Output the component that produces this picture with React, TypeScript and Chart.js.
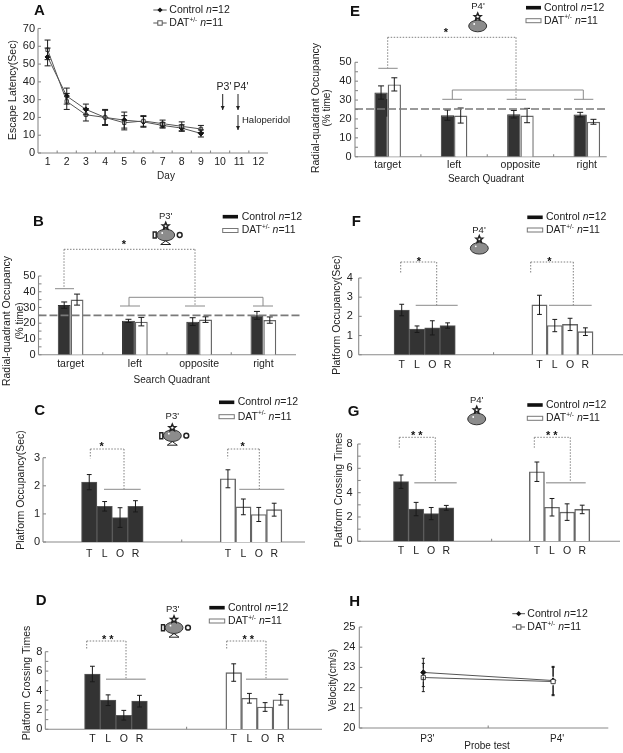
import React, { useEffect, useRef } from "react";
import { Chart, registerables } from "chart.js";

Chart.register(...registerables);

const W = 623;
const H = 753;
const FONT = '"Liberation Sans", Arial, sans-serif';
const INK = "#222222";
const DARK = "#333333";
const AXIS = "#8a8a8a";

// ---- data ----
const days = ["1", "2", "3", "4", "5", "6", "7", "8", "9", "10", "11", "12"];
const aControl = [54, 32, 24.5, 20, 18.5, 17.5, 15.5, 14, 11];
const aControlErr = [5, 4.5, 3, 4, 4.5, 3, 1.5, 1.8, 2];
const aDat = [58, 29, 21.5, 20, 17, 18, 16.5, 15, 13.5];
const aDatErr = [5.5, 4.5, 3.5, 4.5, 4, 3, 2, 2.5, 2];

const searchQuadrants = ["target", "left", "opposite", "right"];
const shortQuadrants = ["T", "L", "O", "R"];

const bControl = [31.5, 21.5, 21, 25];
const bControlErr = [2, 1, 2.5, 2.5];
const bDat = [35, 21, 22.3, 22];
const bDatErr = [3.5, 2.7, 1.8, 2];

const cControl = [2.13, 1.27, 0.87, 1.27];
const cControlErr = [0.27, 0.17, 0.35, 0.2];
const cDat = [2.25, 1.25, 0.98, 1.15];
const cDatErr = [0.32, 0.28, 0.25, 0.23];

const dControl = [5.7, 3.0, 1.45, 2.9];
const dControlErr = [0.8, 0.55, 0.5, 0.6];
const dDat = [5.85, 3.2, 2.3, 3.05];
const dDatErr = [0.9, 0.5, 0.45, 0.55];

const eControl = [34, 22, 22.5, 22.3];
const eControlErr = [3.5, 2.7, 2, 1.2];
const eDat = [38.3, 21.8, 21.8, 18.5];
const eDatErr = [3.5, 4, 3.8, 1.3];

const fControl = [2.33, 1.33, 1.4, 1.52];
const fControlErr = [0.3, 0.17, 0.37, 0.14];
const fDat = [2.6, 1.52, 1.58, 1.2];
const fDatErr = [0.5, 0.32, 0.32, 0.2];

const gControl = [4.9, 2.65, 2.28, 2.75];
const gControlErr = [0.55, 0.55, 0.5, 0.2];
const gDat = [5.72, 2.8, 2.4, 2.62];
const gDatErr = [0.8, 0.72, 0.68, 0.35];

const probes = ["P3'", "P4'"];
const hControl = [22.75, 22.35];
const hControlErr = [0.7, 0.7];
const hDat = [22.5, 22.3];
const hDatErr = [0.7, 0.7];

// ---- slot helpers: every bar of panels C, D, F, G sits on one category of an 18-slot axis ----
const controlStart = 3;
const datStart = 12;
const slotCount = 18;
function slotLabels(): string[] {
  const out = new Array(slotCount).fill("");
  shortQuadrants.forEach((q, i) => {
    out[controlStart + i] = q;
    out[datStart + i] = q;
  });
  return out;
}
function slotted(values: number[], start: number): (number | null)[] {
  const out = new Array(slotCount).fill(null);
  values.forEach((v, i) => (out[start + i] = v));
  return out;
}

// ---- drawing helpers ----
type Run = { t: string; i?: boolean; sup?: boolean };
const controlRuns: Run[] = [{ t: "Control " }, { t: "n", i: true }, { t: "=12" }];
const datRuns: Run[] = [{ t: "DAT" }, { t: "+/-", sup: true }, { t: " " }, { t: "n", i: true }, { t: "=11" }];

function drawRuns(ctx: CanvasRenderingContext2D, x: number, y: number, runs: Run[], size: number) {
  ctx.textAlign = "left";
  ctx.textBaseline = "middle";
  ctx.fillStyle = INK;
  let cx = x;
  for (const r of runs) {
    const s = r.sup ? size * 0.62 : size;
    ctx.font = `${r.i ? "italic " : ""}${s}px ${FONT}`;
    ctx.fillText(r.t, cx, r.sup ? y - 3 : y);
    cx += ctx.measureText(r.t).width;
  }
}

function seg(ctx: CanvasRenderingContext2D, x1: number, y1: number, x2: number, y2: number) {
  ctx.beginPath();
  ctx.moveTo(x1, y1);
  ctx.lineTo(x2, y2);
  ctx.stroke();
}

function text(
  ctx: CanvasRenderingContext2D,
  s: string,
  x: number,
  y: number,
  size: number,
  opts: { rot?: boolean; bold?: boolean; align?: CanvasTextAlign } = {}
) {
  ctx.save();
  ctx.translate(x, y);
  if (opts.rot) ctx.rotate(-Math.PI / 2);
  ctx.font = `${opts.bold ? "bold " : ""}${size}px ${FONT}`;
  ctx.fillStyle = opts.bold ? "#111" : INK;
  ctx.textAlign = opts.align || "center";
  ctx.textBaseline = "middle";
  ctx.fillText(s, 0, 0);
  ctx.restore();
}

function star(ctx: CanvasRenderingContext2D, cx: number, cy: number, r: number) {
  ctx.beginPath();
  for (let i = 0; i < 10; i++) {
    const a = -Math.PI / 2 + (i * Math.PI) / 5;
    const rr = i % 2 ? r * 0.45 : r;
    const px = cx + Math.cos(a) * rr;
    const py = cy + Math.sin(a) * rr;
    if (i) ctx.lineTo(px, py);
    else ctx.moveTo(px, py);
  }
  ctx.closePath();
  ctx.stroke();
}

function maze(ctx: CanvasRenderingContext2D, cx: number, cy: number, starY: number, cues: boolean) {
  ctx.save();
  ctx.strokeStyle = "#222";
  ctx.lineWidth = 0.9;
  ctx.setLineDash([]);
  ctx.beginPath();
  ctx.ellipse(cx, cy, 9, 5.8, 0, 0, Math.PI * 2);
  ctx.fillStyle = "#8c8c8c";
  ctx.fill();
  ctx.stroke();
  ctx.fillStyle = "#fff";
  ctx.beginPath();
  ctx.arc(cx - 3.5, cy - 2, 0.9, 0, Math.PI * 2);
  ctx.fill();
  ctx.lineWidth = 1.5;
  star(ctx, cx, starY, 3.6);
  if (cues) {
    ctx.lineWidth = 1.4;
    ctx.beginPath();
    ctx.moveTo(cx - 12.5, cy - 3);
    ctx.lineTo(cx - 12.5, cy + 3);
    ctx.lineTo(cx - 9.5, cy + 3);
    ctx.lineTo(cx - 9.5, cy - 3);
    ctx.closePath();
    ctx.stroke();
    ctx.lineWidth = 1.5;
    ctx.beginPath();
    ctx.arc(cx + 14, cy, 2.4, 0, Math.PI * 2);
    ctx.stroke();
    ctx.lineWidth = 1;
    ctx.beginPath();
    ctx.moveTo(cx, cy + 5.8);
    ctx.lineTo(cx - 5, cy + 9.5);
    ctx.lineTo(cx + 5, cy + 9.5);
    ctx.closePath();
    ctx.stroke();
  }
  ctx.restore();
}

type Seg = [number, number, number, number];
type Txt = { s: string; x: number; y: number; size?: number; rot?: boolean; bold?: boolean; align?: CanvasTextAlign };
type Panel = {
  type: "bar" | "line";
  labels: string[];
  datasets: any[];
  plot: { l: number; r: number; t: number; b: number };
  axisL: number;
  axisR: number;
  yMin: number;
  yMax: number;
  yStep: number;
  yMinor?: number;
  xMinor: number[];
  offset: boolean;
  xPad: number;
  xFont?: number;
  labelOffset?: number;
  cap: number;
  ref?: { v: number; x1: number; x2: number };
  dotted?: Seg[];
  solid?: Seg[];
  solidW?: number;
  solidC?: string;
  black?: Seg[];
  texts: Txt[];
  legend: { x1: number; x2: number; tx: number; y1: number; y2: number; kind: "bar" | "line"; mark?: number };
  maze?: { x: number; y: number; starY: number; cues: boolean };
};

const barSets = (control: any[], controlErr: any[], dat: any[], datErr: any[], slots: boolean) => [
  {
    label: "Control n=12",
    data: control,
    errors: controlErr,
    backgroundColor: DARK,
    borderColor: slots ? "#5a5a5a" : DARK,
    borderWidth: 1,
    ...(slots ? { grouped: false, categoryPercentage: 1, barPercentage: 1 } : { categoryPercentage: 0.4, barPercentage: 1 }),
  },
  {
    label: "DAT+/- n=11",
    data: dat,
    errors: datErr,
    backgroundColor: "#ffffff",
    borderColor: "#666666",
    borderWidth: 1.4,
    ...(slots ? { grouped: false, categoryPercentage: 1, barPercentage: 1 } : { categoryPercentage: 0.4, barPercentage: 1 }),
  },
];
const slotBars = (c: number[], ce: number[], d: number[], de: number[]) =>
  barSets(slotted(c, controlStart), slotted(ce, controlStart), slotted(d, datStart), slotted(de, datStart), true);

const lineSets = (c: number[], ce: number[], d: number[], de: number[], datRadius: number, ctrlRadius: number) => [
  {
    label: "Control n=12",
    data: c,
    errors: ce,
    order: 1,
    borderColor: "#555555",
    borderWidth: 1,
    pointStyle: "rectRot",
    pointRadius: ctrlRadius,
    pointBackgroundColor: "#111111",
    pointBorderColor: "#111111",
    tension: 0,
  },
  {
    label: "DAT+/- n=11",
    data: d,
    errors: de,
    order: 0,
    borderColor: "#555555",
    borderWidth: 1,
    pointStyle: "rect",
    pointRadius: datRadius,
    pointBackgroundColor: "#ffffff",
    pointBorderColor: "#444444",
    pointBorderWidth: 1,
    tension: 0,
  },
];

const panels: Panel[] = [
  {
    type: "line",
    labels: days,
    datasets: lineSets(aControl, aControlErr, aDat, aDatErr, 2.4, 2.6),
    plot: { l: 38, r: 268, t: 28.5, b: 153 },
    axisL: 38,
    axisR: 268,
    yMin: 0,
    yMax: 70,
    yStep: 10,
    xMinor: [0.5, 1.5, 2.5, 3.5, 4.5, 5.5, 6.5, 7.5, 8.5, 9.5, 10.5],
    offset: true,
    xPad: 3,
    cap: 3,
    black: [
      [222.7, 94, 222.7, 110],
      [238, 94, 238, 110],
      [238, 115, 238, 130],
    ],
    texts: [
      { s: "A", x: 34, y: 11, size: 15, bold: true, align: "left" },
      { s: "Escape Latency(Sec)", x: 13.5, y: 90, size: 10.5, rot: true },
      { s: "Day", x: 166, y: 176.5, size: 10 },
      { s: "P3'", x: 224, y: 87, size: 10.5 },
      { s: "P4'", x: 241, y: 87, size: 10.5 },
      { s: "Haloperidol", x: 242, y: 120.5, size: 9.5, align: "left" },
    ],
    legend: { x1: 153.3, x2: 166.7, tx: 169.3, y1: 10, y2: 23, kind: "line", mark: 160 },
  },
  {
    type: "bar",
    labels: searchQuadrants,
    datasets: barSets(bControl, bControlErr, bDat, bDatErr, false),
    plot: { l: 38.5, r: 295.5, t: 276, b: 354.7 },
    axisL: 38.5,
    axisR: 296,
    yMin: 0,
    yMax: 50,
    yStep: 10,
    yMinor: 5,
    xMinor: [0.5, 1.5, 2.5],
    offset: true,
    xPad: 3,
    cap: 3,
    ref: { v: 25, x1: 38.5, x2: 300 },
    dotted: [
      [64, 249.3, 195, 249.3],
      [64, 249.3, 64, 288.7],
      [195, 249.3, 195, 306],
    ],
    solid: [
      [55, 288.7, 74, 288.7],
      [120, 306, 140, 306],
      [185, 306, 205, 306],
      [253, 306, 273, 306],
      [129, 297.3, 263, 297.3],
      [129, 297.3, 129, 306],
      [263, 297.3, 263, 306],
    ],
    texts: [
      { s: "B", x: 33, y: 222.3, size: 15, bold: true, align: "left" },
      { s: "Radial-quadrant Occupancy", x: 7.5, y: 321, size: 10.5, rot: true },
      { s: "(% time)", x: 20, y: 321, size: 10, rot: true },
      { s: "Search Quadrant", x: 171.7, y: 380.7, size: 10 },
      { s: "P3'", x: 165.7, y: 216, size: 9.5 },
      { s: "*", x: 124, y: 244.5, size: 11, bold: true },
    ],
    legend: { x1: 222.7, x2: 238, tx: 241.7, y1: 216.7, y2: 230.5, kind: "bar" },
    maze: { x: 165.7, y: 235, starY: 226, cues: true },
  },
  {
    type: "bar",
    labels: slotLabels(),
    datasets: slotBars(cControl, cControlErr, cDat, cDatErr),
    plot: { l: 43, r: 305, t: 457.7, b: 542 },
    axisL: 43,
    axisR: 305,
    yMin: 0,
    yMax: 3,
    yStep: 1,
    xMinor: [9],
    offset: false,
    xPad: 6,
    cap: 2.4,
    dotted: [
      [90.3, 449, 124, 449],
      [90.3, 449, 90.3, 458.3],
      [124, 449, 124, 489.3],
      [227.7, 449, 259.3, 449],
      [227.7, 449, 227.7, 458.3],
      [259.3, 449, 259.3, 489.3],
    ],
    solid: [
      [104, 489.3, 140.7, 489.3],
      [239.3, 489.3, 284.3, 489.3],
    ],
    texts: [
      { s: "C", x: 34.3, y: 411, size: 15, bold: true, align: "left" },
      { s: "Platform Occupancy(Sec)", x: 21, y: 490, size: 10.5, rot: true },
      { s: "P3'", x: 172.3, y: 416.7, size: 9.5 },
      { s: "*", x: 101.7, y: 446.5, size: 11, bold: true },
      { s: "*", x: 242.7, y: 446.5, size: 11, bold: true },
    ],
    legend: { x1: 219, x2: 234.3, tx: 237.7, y1: 402.3, y2: 416.7, kind: "bar" },
    maze: { x: 172.3, y: 435.7, starY: 427.7, cues: true },
  },
  {
    type: "bar",
    labels: slotLabels(),
    datasets: slotBars(dControl, dControlErr, dDat, dDatErr),
    plot: { l: 45.3, r: 312.2, t: 651.7, b: 729.3 },
    axisL: 45.3,
    axisR: 322,
    yMin: 0,
    yMax: 8,
    yStep: 2,
    yMinor: 1,
    xMinor: [9],
    offset: false,
    xPad: 3.5,
    cap: 2.4,
    dotted: [
      [86.7, 641, 126, 641],
      [86.7, 641, 86.7, 650],
      [126, 641, 126, 679.3],
      [226.7, 641, 266, 641],
      [226.7, 641, 226.7, 650],
      [266, 641, 266, 679.3],
    ],
    solid: [
      [106, 679.3, 145.7, 679.3],
      [246, 679.3, 288.3, 679.3],
    ],
    solidW: 1.6,
    solidC: "#aaaaaa",
    texts: [
      { s: "D", x: 35.7, y: 601, size: 15, bold: true, align: "left" },
      { s: "Platform Crossing Times", x: 26.7, y: 683, size: 10.5, rot: true },
      { s: "P3'", x: 172.7, y: 609, size: 9.5 },
      { s: "* *", x: 107.7, y: 639.5, size: 11, bold: true },
      { s: "* *", x: 248.3, y: 639.5, size: 11, bold: true },
    ],
    legend: { x1: 209.3, x2: 224.7, tx: 228, y1: 607.7, y2: 621, kind: "bar" },
    maze: { x: 174, y: 627.7, starY: 619.5, cues: true },
  },
  {
    type: "bar",
    labels: searchQuadrants,
    datasets: barSets(eControl, eControlErr, eDat, eDatErr, false),
    plot: { l: 354.5, r: 620, t: 62.3, b: 156.7 },
    axisL: 355,
    axisR: 606.7,
    yMin: 0,
    yMax: 50,
    yStep: 10,
    yMinor: 5,
    xMinor: [0.5, 1.5, 2.5],
    offset: true,
    xPad: 2,
    cap: 3,
    ref: { v: 25.3, x1: 355, x2: 607 },
    dotted: [
      [387.7, 37.3, 516, 37.3],
      [387.7, 37.3, 387.7, 68.3],
      [516, 37.3, 516, 99.3],
    ],
    solid: [
      [378.3, 68.3, 397.7, 68.3],
      [442.3, 99.3, 462, 99.3],
      [506.7, 99.3, 526, 99.3],
      [574, 99.3, 593.3, 99.3],
      [452.3, 90, 583.3, 90],
      [452.3, 90, 452.3, 99.3],
      [583.3, 90, 583.3, 99.3],
    ],
    black: [[386.7, 99, 386.7, 116.7]],
    texts: [
      { s: "E", x: 350, y: 11.7, size: 15, bold: true, align: "left" },
      { s: "Radial-quadrant Occupancy", x: 316, y: 108, size: 10.5, rot: true },
      { s: "(% time)", x: 327, y: 108, size: 10, rot: true },
      { s: "Search Quadrant", x: 486, y: 179, size: 10 },
      { s: "P4'", x: 478, y: 6.7, size: 9.5 },
      { s: "*", x: 446, y: 33, size: 11, bold: true },
    ],
    legend: { x1: 526, x2: 541, tx: 544, y1: 7.7, y2: 20.7, kind: "bar" },
    maze: { x: 477.7, y: 26, starY: 16.7, cues: false },
  },
  {
    type: "bar",
    labels: slotLabels(),
    datasets: slotBars(fControl, fControlErr, fDat, fDatErr),
    plot: { l: 355.8, r: 616, t: 278, b: 354.7 },
    axisL: 358.7,
    axisR: 623,
    yMin: 0,
    yMax: 4,
    yStep: 1,
    xMinor: [9],
    offset: false,
    xPad: 4,
    cap: 2.4,
    dotted: [
      [400.7, 262, 436.7, 262],
      [400.7, 262, 400.7, 272.7],
      [436.7, 262, 436.7, 305.3],
      [530.7, 262, 573.3, 262],
      [530.7, 262, 530.7, 272.7],
      [573.3, 262, 573.3, 305.3],
    ],
    solid: [
      [415.7, 305.3, 457.7, 305.3],
      [549, 305.3, 591.7, 305.3],
    ],
    texts: [
      { s: "F", x: 351.7, y: 222.3, size: 15, bold: true, align: "left" },
      { s: "Platform Occupancy(Sec)", x: 336.7, y: 315, size: 10.5, rot: true },
      { s: "P4'", x: 479, y: 230, size: 9.5 },
      { s: "*", x: 419, y: 262, size: 11, bold: true },
      { s: "*", x: 549.3, y: 262, size: 11, bold: true },
    ],
    legend: { x1: 527.3, x2: 542.7, tx: 546, y1: 217.3, y2: 230, kind: "bar" },
    maze: { x: 479.3, y: 248.3, starY: 239.3, cues: false },
  },
  {
    type: "bar",
    labels: slotLabels(),
    datasets: slotBars(gControl, gControlErr, gDat, gDatErr),
    plot: { l: 355.7, r: 612.4, t: 444, b: 541.3 },
    axisL: 357.7,
    axisR: 620,
    yMin: 0,
    yMax: 8,
    yStep: 2,
    yMinor: 1,
    xMinor: [9],
    offset: false,
    xPad: 4,
    cap: 2.4,
    dotted: [
      [399.3, 437.3, 435.3, 437.3],
      [399.3, 437.3, 399.3, 447.7],
      [435.3, 437.3, 435.3, 482.7],
      [534.3, 437.3, 570.3, 437.3],
      [534.3, 437.3, 534.3, 447.7],
      [570.3, 437.3, 570.3, 482.7],
    ],
    solid: [
      [414.3, 482.7, 456.7, 482.7],
      [546, 482.7, 585.7, 482.7],
    ],
    solidW: 1.6,
    solidC: "#aaaaaa",
    texts: [
      { s: "G", x: 347.7, y: 411.7, size: 15, bold: true, align: "left" },
      { s: "Platform Crossing Times", x: 339, y: 490, size: 10.5, rot: true },
      { s: "P4'", x: 476.7, y: 400, size: 9.5 },
      { s: "* *", x: 416.7, y: 435.8, size: 11, bold: true },
      { s: "* *", x: 551.7, y: 435.8, size: 11, bold: true },
    ],
    legend: { x1: 527.3, x2: 542.7, tx: 546, y1: 405, y2: 418.3, kind: "bar" },
    maze: { x: 476.7, y: 419, starY: 410, cues: false },
  },
  {
    type: "line",
    labels: probes,
    datasets: lineSets(hControl, hControlErr, hDat, hDatErr, 3, 2.6),
    plot: { l: 358.4, r: 623, t: 627, b: 728 },
    axisL: 359.3,
    axisR: 608.3,
    yMin: 20,
    yMax: 25,
    yStep: 1,
    xMinor: [0.5],
    offset: true,
    xPad: 5,
    xFont: 10,
    labelOffset: 4,
    cap: 1.5,
    texts: [
      { s: "H", x: 349.3, y: 602.3, size: 15, bold: true, align: "left" },
      { s: "Velocity(cm/s)", x: 333.3, y: 680, size: 10, rot: true },
      { s: "Probe test", x: 487, y: 746.5, size: 10 },
    ],
    legend: { x1: 512.3, x2: 525, tx: 527.3, y1: 613.7, y2: 627, kind: "line", mark: 518.7 },
  },
];

const decoPlugin = (p: Panel) => ({
  id: "deco",
  beforeDatasetsDraw(chart: any) {
    const { ctx, scales } = chart;
    const x = scales.x;
    const y = scales.y;
    ctx.save();
    ctx.strokeStyle = AXIS;
    ctx.lineWidth = 1.1;
    // axis lines with inward tick marks
    seg(ctx, p.axisL, p.plot.b, p.axisR, p.plot.b);
    seg(ctx, p.axisL, p.plot.t, p.axisL, p.plot.b);
    const step = p.yMinor || p.yStep;
    for (let v = p.yMin; v <= p.yMax + 1e-6; v += step) {
      const py = y.getPixelForValue(v);
      seg(ctx, p.axisL, py, p.axisL + 3, py);
    }
    for (const m of p.xMinor) {
      const px = x.getPixelForValue(m);
      seg(ctx, px, p.plot.b, px, p.plot.b - 2.5);
    }
    ctx.restore();
  },
  afterDatasetsDraw(chart: any) {
    const { ctx, scales } = chart;
    const y = scales.y;
    ctx.save();
    // error bars
    ctx.strokeStyle = "#1a1a1a";
    ctx.lineWidth = 1;
    chart.data.datasets.forEach((ds: any, i: number) => {
      const meta = chart.getDatasetMeta(i);
      meta.data.forEach((el: any, j: number) => {
        const v = ds.data[j];
        const e = ds.errors?.[j];
        if (v == null || e == null) return;
        const hi = y.getPixelForValue(v + e);
        const lo = y.getPixelForValue(v - e);
        if (p.type === "line" && p.cap < 2) {
          // short whiskers only: the marker stays on top in panel H
          seg(ctx, el.x, hi, el.x, y.getPixelForValue(v + e * 0.3));
          seg(ctx, el.x, lo, el.x, y.getPixelForValue(v - e * 0.3));
        } else {
          seg(ctx, el.x, hi, el.x, lo);
        }
        seg(ctx, el.x - p.cap, hi, el.x + p.cap, hi);
        seg(ctx, el.x - p.cap, lo, el.x + p.cap, lo);
      });
    });
    // chance line
    if (p.ref) {
      ctx.save();
      ctx.strokeStyle = "#7a7a7a";
      ctx.lineWidth = 1.6;
      ctx.setLineDash([8, 3]);
      const py = y.getPixelForValue(p.ref.v);
      seg(ctx, p.ref.x1, py, p.ref.x2, py);
      ctx.restore();
    }
    // significance brackets
    ctx.save();
    ctx.strokeStyle = "#808080";
    ctx.lineWidth = 1;
    ctx.setLineDash([1.5, 1.5]);
    (p.dotted || []).forEach((s) => seg(ctx, s[0], s[1], s[2], s[3]));
    ctx.restore();
    ctx.save();
    ctx.strokeStyle = p.solidC || "#8a8a8a";
    ctx.lineWidth = p.solidW || 1;
    (p.solid || []).forEach((s) => seg(ctx, s[0], s[1], s[2], s[3]));
    ctx.restore();
    // arrows and stray strokes
    ctx.strokeStyle = "#222";
    ctx.fillStyle = "#222";
    (p.black || []).forEach((s) => {
      seg(ctx, s[0], s[1], s[2], s[3]);
      if (p.type === "line") {
        ctx.beginPath();
        ctx.moveTo(s[2] - 2, s[3] - 4);
        ctx.lineTo(s[2] + 2, s[3] - 4);
        ctx.lineTo(s[2], s[3]);
        ctx.closePath();
        ctx.fill();
      }
    });
    if (p.maze) maze(ctx, p.maze.x, p.maze.y, p.maze.starY, p.maze.cues);
    // text
    p.texts.forEach((t) => text(ctx, t.s, t.x, t.y, t.size || 10, { rot: t.rot, bold: t.bold, align: t.align }));
    // legend
    const lg = p.legend;
    if (lg.kind === "bar") {
      ctx.fillStyle = "#111";
      ctx.fillRect(lg.x1, lg.y1 - 1.8, lg.x2 - lg.x1, 3.6);
      ctx.strokeStyle = "#777";
      ctx.lineWidth = 1;
      ctx.strokeRect(lg.x1, lg.y2 - 2, lg.x2 - lg.x1, 4);
    } else {
      ctx.strokeStyle = "#555";
      ctx.lineWidth = 1;
      seg(ctx, lg.x1, lg.y1, lg.x2, lg.y1);
      seg(ctx, lg.x1, lg.y2, lg.x2, lg.y2);
      const mx = lg.mark as number;
      ctx.fillStyle = "#111";
      ctx.beginPath();
      ctx.moveTo(mx, lg.y1 - 2.6);
      ctx.lineTo(mx + 2.6, lg.y1);
      ctx.lineTo(mx, lg.y1 + 2.6);
      ctx.lineTo(mx - 2.6, lg.y1);
      ctx.closePath();
      ctx.fill();
      ctx.fillStyle = "#fff";
      ctx.fillRect(mx - 2.2, lg.y2 - 2.2, 4.4, 4.4);
      ctx.strokeRect(mx - 2.2, lg.y2 - 2.2, 4.4, 4.4);
    }
    drawRuns(ctx, lg.tx, lg.y1, controlRuns, 10.5);
    drawRuns(ctx, lg.tx, lg.y2, datRuns, 10.5);
    ctx.restore();
  },
});

function PanelChart({ panel }: { panel: Panel }) {
  const ref = useRef<HTMLCanvasElement | null>(null);
  useEffect(() => {
    if (!ref.current) return;
    const yW = 30;
    const xH = 22;
    const p = panel.plot;
    const chart = new Chart(ref.current, {
      type: panel.type,
      data: { labels: panel.labels, datasets: panel.datasets },
      plugins: [decoPlugin(panel)],
      options: {
        responsive: false,
        animation: false,
        layout: { padding: { left: p.l - yW, top: p.t, right: W - p.r, bottom: H - p.b - xH } },
        plugins: { legend: { display: false }, tooltip: { enabled: false }, title: { display: false } },
        scales: {
          x: {
            type: "category",
            offset: panel.offset,
            grid: { display: false, drawTicks: false },
            border: { display: false },
            ticks: {
              autoSkip: false,
              maxRotation: 0,
              minRotation: 0,
              padding: panel.xPad,
              labelOffset: panel.labelOffset || 0,
              color: INK,
              font: { family: FONT, size: panel.xFont || 10.5 },
            },
            afterFit: (s: any) => {
              s.height = xH;
            },
          },
          y: {
            min: panel.yMin,
            max: panel.yMax,
            grid: { display: false, drawTicks: false },
            border: { display: false },
            ticks: { autoSkip: false, stepSize: panel.yStep, padding: 3, color: INK, font: { family: FONT, size: 11 } },
            afterFit: (s: any) => {
              s.width = yW;
            },
          },
        },
      } as any,
    } as any);
    return () => chart.destroy();
  }, [panel]);
  return <canvas ref={ref} width={W} height={H} style={{ position: "absolute", left: 0, top: 0 }} />;
}

export default function App() {
  return (
    <div
      style={{
        position: "absolute",
        left: 0,
        top: 0,
        width: W,
        height: H,
        background: "#fff",
        overflow: "hidden",
        filter: "blur(0.35px)",
      }}
    >
      {panels.map((p, i) => (
        <PanelChart key={i} panel={p} />
      ))}
    </div>
  );
}
